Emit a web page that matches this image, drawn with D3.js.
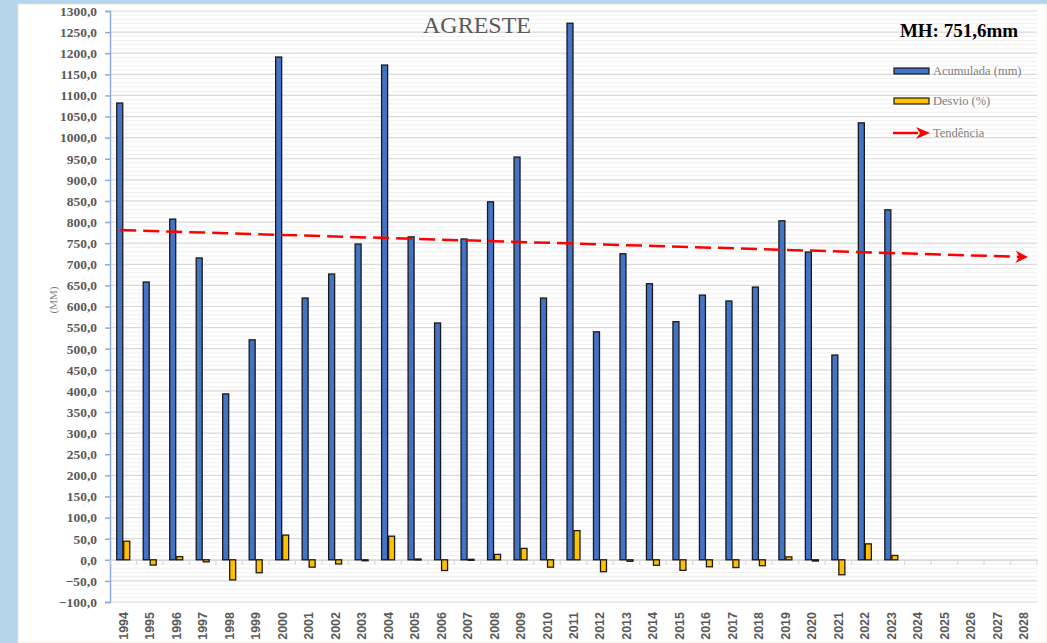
<!DOCTYPE html>
<html><head><meta charset="utf-8">
<script src="https://cdn.jsdelivr.net/npm/d3@7/dist/d3.min.js"></script>
<style>html,body{margin:0;padding:0;background:#b4d5ec;}svg{display:block;}</style>
</head><body>
<script>
const years = ["1994","1995","1996","1997","1998","1999","2000","2001","2002","2003","2004","2005","2006","2007","2008","2009","2010","2011","2012","2013","2014","2015","2016","2017","2018","2019","2020","2021","2022","2023","2024","2025","2026","2027","2028"];
const acumulada = [1082,658,807,715,393,521,1191,620,677,748,1172,765,561,760,848,954,620,1271,540,725,654,564,627,613,646,803,729,485,1035,829];
const desvio = [44,-12.5,7.4,-4.9,-47.7,-30.7,58.5,-17.5,-9.9,-0.5,55.9,1.8,-25.4,1.1,12.8,26.9,-17.5,69.1,-28.2,-3.5,-13,-25,-16.6,-18.4,-14,6.8,-3,-35.5,37.7,10.3];
const trendYears = ["1994","2028"];
const trendValues = [781,717.5];
const yTicks = d3.range(-100, 1301, 50);
const legendItems = ["Acumulada (mm)","Desvio (%)","Tendência"];

const W = 1047, H = 643;
const svg = d3.select("body").append("svg").attr("width", W).attr("height", H);
svg.append("rect").attr("x",0).attr("y",0).attr("width",W).attr("height",H).attr("fill","#b4d5ec");
svg.append("rect").attr("x",18).attr("y",4).attr("width",W-18).attr("height",H-4).attr("fill","#ffffff").attr("stroke","#e6e1dc").attr("stroke-width",1);

const pL = 110, pR = 1037, pT = 11, pB = 602;
const x = d3.scaleBand().domain(years).range([pL, pR]).paddingInner(0).paddingOuter(0);
const y = d3.scaleLinear().domain([-100, 1300]).range([pB, pT]);

// minor gridlines
const minor = d3.range(-100, 1301, 10).filter(v => v % 50 !== 0);
svg.append("g").selectAll("line").data(minor).join("line")
  .attr("x1", pL).attr("x2", pR).attr("y1", d => y(d)).attr("y2", d => y(d))
  .attr("stroke", "#f0f0f0").attr("stroke-width", 1);
svg.append("g").selectAll("line").data(yTicks).join("line")
  .attr("x1", pL).attr("x2", pR).attr("y1", d => y(d)).attr("y2", d => y(d))
  .attr("stroke", "#d9d9d9").attr("stroke-width", 1.2);

// y axis
const yAxis = d3.axisLeft(y).tickValues(yTicks).tickSize(5).tickPadding(8)
  .tickFormat(d => d3.format(".1f")(d).replace(".", ","));
const ya = svg.append("g").attr("transform", `translate(${pL},0)`).call(yAxis);
ya.select(".domain").attr("stroke", "#8eaadb").attr("stroke-width", 1.5);
ya.selectAll(".tick line").attr("stroke", "#8eaadb").attr("stroke-width", 1.5);
ya.selectAll(".tick text").attr("fill", "#595959").attr("font-family", "'Liberation Serif', serif")
  .attr("font-weight", "bold").attr("font-size", 13.5);

// x axis at zero
const xAxis = d3.axisBottom(x).tickSize(0).tickFormat("");
const xa = svg.append("g").attr("transform", `translate(0,${y(0)})`).call(xAxis);
xa.select(".domain").attr("stroke", "#d9d9d9").attr("stroke-width", 1.2);
svg.append("g").selectAll("line").data(years.concat(["end"])).join("line")
  .attr("x1", (d,i) => pL + i * x.bandwidth()).attr("x2", (d,i) => pL + i * x.bandwidth())
  .attr("y1", y(0)).attr("y2", y(0) + 5).attr("stroke", "#d9d9d9").attr("stroke-width", 1.2);

// x labels
svg.append("g").selectAll("text").data(years).join("text")
  .attr("transform", d => `translate(${x(d) + x.bandwidth()/2 + 4.5},612) rotate(-90)`)
  .attr("text-anchor", "end").attr("fill", "#595959")
  .attr("font-family", "'Liberation Sans', Arial, sans-serif").attr("font-weight", "bold").attr("font-size", 12.5)
  .text(d => d);

// bars
const bw = 6;
svg.append("g").selectAll("rect").data(acumulada).join("rect")
  .attr("x", (d,i) => x(years[i]) + x.bandwidth()/2 - bw - 0.5)
  .attr("y", d => y(Math.max(0,d))).attr("width", bw)
  .attr("height", d => Math.abs(y(d) - y(0)))
  .attr("fill", "#4472c4").attr("stroke", "#1a1a1a").attr("stroke-width", 1.3);
svg.append("g").selectAll("rect").data(desvio).join("rect")
  .attr("x", (d,i) => x(years[i]) + x.bandwidth()/2 + 0.5)
  .attr("y", d => y(Math.max(0,d))).attr("width", bw)
  .attr("height", d => Math.max(1, Math.abs(y(d) - y(0))))
  .attr("fill", "#ffc000").attr("stroke", "#1a1a1a").attr("stroke-width", 1.3);

// trend
const defs = svg.append("defs");
defs.append("marker").attr("id","arr").attr("viewBox","0 0 10 10").attr("refX",5).attr("refY",5)
  .attr("markerWidth",5).attr("markerHeight",5).attr("orient","auto").attr("markerUnits","strokeWidth")
  .append("path").attr("d","M0,0 L10,5 L0,10 L3,5 Z").attr("fill","#ff0000");
const trendPts = trendYears.map((t,i) => [x(t) + x.bandwidth()/2 - (i===0?3:2), y(trendValues[i])]);
svg.append("path").attr("d", d3.line()(trendPts)).attr("fill","none")
  .attr("stroke","#ff0000").attr("stroke-width",2.5).attr("stroke-dasharray","16,7")
  .attr("marker-end","url(#arr)");

// title
svg.append("text").attr("x", 477).attr("y", 33).attr("text-anchor","middle")
  .attr("font-family","'Liberation Serif', serif").attr("font-size",24).attr("fill","#595959").text("AGRESTE");
svg.append("text").attr("x", 959).attr("y", 37).attr("text-anchor","middle")
  .attr("font-family","'Liberation Serif', serif").attr("font-weight","bold").attr("font-size",19).attr("fill","#000").text("MH: 751,6mm");

// y title
svg.append("text").attr("transform","translate(57,300) rotate(-90)").attr("text-anchor","middle")
  .attr("font-family","'Liberation Serif', serif").attr("font-size",11).attr("fill","#7f7f7f").text("(MM)");

// legend
const lg = svg.append("g");
const ly = [71, 101, 133];
lg.append("rect").attr("x",894).attr("y",ly[0]-3).attr("width",35).attr("height",6)
  .attr("fill","#4472c4").attr("stroke","#1a1a1a").attr("stroke-width",1.2);
lg.append("rect").attr("x",894).attr("y",ly[1]-3).attr("width",35).attr("height",6)
  .attr("fill","#ffc000").attr("stroke","#1a1a1a").attr("stroke-width",1.2);
lg.append("line").attr("x1",893).attr("x2",918).attr("y1",ly[2]).attr("y2",ly[2])
  .attr("stroke","#ff0000").attr("stroke-width",2.5);
lg.append("path").attr("d",`M916,${ly[2]-6} L930,${ly[2]} L916,${ly[2]+6} L920,${ly[2]} Z`).attr("fill","#ff0000");
lg.selectAll("text").data(legendItems).join("text")
  .attr("x",933).attr("y",(d,i) => ly[i] + 4)
  .attr("font-family","'Liberation Serif', serif").attr("font-size",12.5).attr("fill","#7f7f7f")
  .text(d => d);
</script>
</body></html>
